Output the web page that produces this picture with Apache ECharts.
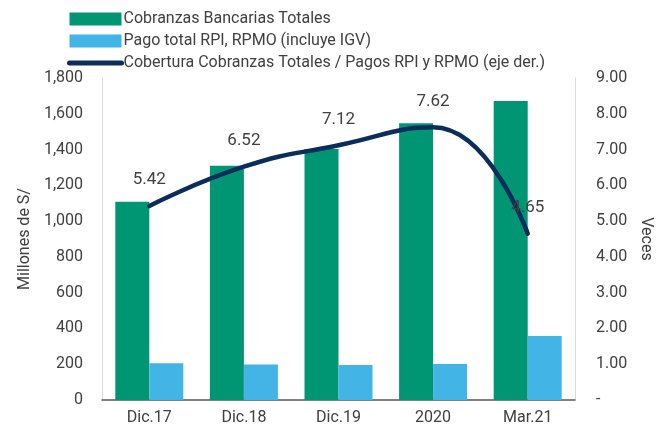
<!DOCTYPE html>
<html>
<head>
<meta charset="utf-8">
<script src="https://cdn.jsdelivr.net/npm/echarts@6/dist/echarts.min.js"></script>
<style>
  html, body { margin: 0; padding: 0; background: #fff; }
  #chart { width: 667px; height: 436px; }
</style>
</head>
<body>
<div id="chart"></div>
<script>
  var categories = ['Dic.17', 'Dic.18', 'Dic.19', '2020', 'Mar.21']
  var cobranzas = [1108, 1310, 1403, 1547, 1671]
  var pagos = [205, 199, 196, 201, 358]
  var cobertura = [5.42, 6.52, 7.12, 7.62, 4.65]
  var seriesNames = [
    'Cobranzas Bancarias Totales',
    'Pago total RPI, RPMO (incluye IGV)',
    'Cobertura Cobranzas Totales / Pagos RPI y RPMO (eje der.)'
  ]

  var fontFam = 'Roboto, "Noto Sans", sans-serif'
  var txt = '#404040'

  var chart = echarts.init(document.getElementById('chart'))
  var option = {
    animation: false,
    textStyle: { fontFamily: fontFam },
    legend: {
      orient: 'vertical',
      left: 62,
      top: 6,
      itemWidth: 52,
      itemHeight: 13,
      itemGap: 6,
      textStyle: { fontSize: 16, color: txt, fontFamily: fontFam, padding: [0, 0, 0, -3] },
      data: [
        { name: seriesNames[0], icon: 'rect' },
        { name: seriesNames[1], icon: 'rect' },
        {
          name: seriesNames[2],
          itemStyle: { color: 'rgba(0,0,0,0)', borderWidth: 0 },
          lineStyle: { width: 5, cap: 'round', color: '#0b2d5b' }
        }
      ]
    },
    grid: { left: 102, right: 92, top: 78, bottom: 36 },
    xAxis: {
      type: 'category',
      data: categories,
      axisTick: { show: false },
      axisLine: { lineStyle: { color: '#595959', width: 1.5 } },
      axisLabel: { fontSize: 16, color: txt, margin: 10 }
    },
    yAxis: [
      {
        type: 'value',
        min: 0,
        max: 1800,
        interval: 200,
        name: 'Millones de S/',
        nameLocation: 'middle',
        nameGap: 62,
        nameRotate: 90,
        nameTextStyle: { fontSize: 16, color: txt },
        axisLine: { show: true, lineStyle: { color: '#d9d9d9' } },
        axisTick: { show: false },
        splitLine: { show: false },
        axisLabel: {
          fontSize: 16,
          color: txt,
          margin: 19,
          formatter: function (v) { return v.toLocaleString('en-US') }
        }
      },
      {
        type: 'value',
        min: 0,
        max: 9,
        interval: 1,
        name: 'Veces',
        nameLocation: 'middle',
        nameGap: 56,
        nameRotate: -90,
        nameTextStyle: { fontSize: 16, color: txt },
        axisLine: { show: true, lineStyle: { color: '#d9d9d9' } },
        axisTick: { show: false },
        splitLine: { show: false },
        axisLabel: {
          fontSize: 16,
          color: txt,
          margin: 21,
          formatter: function (v) { return v === 0 ? '-' : v.toFixed(2) }
        }
      }
    ],
    series: [
      {
        name: seriesNames[0],
        type: 'bar',
        barWidth: 34,
        barGap: '0%',
        itemStyle: { color: '#009674' },
        data: cobranzas
      },
      {
        name: seriesNames[1],
        type: 'bar',
        barWidth: 34,
        barGap: '0%',
        itemStyle: { color: '#42b5e6' },
        data: pagos
      },
      {
        name: seriesNames[2],
        type: 'line',
        yAxisIndex: 1,
        smooth: 0.5,
        symbol: 'circle',
        symbolSize: 1,
        showSymbol: true,
        lineStyle: { color: '#0b2d5b', width: 4.5, cap: 'round' },
        itemStyle: { color: '#0b2d5b' },
        label: {
          show: true,
          position: 'top',
          distance: 17,
          fontSize: 17,
          color: txt,
          formatter: function (p) { return p.value.toFixed(2) }
        },
        data: cobertura
      }
    ]
  }
  chart.setOption(option)
</script>
</body>
</html>
